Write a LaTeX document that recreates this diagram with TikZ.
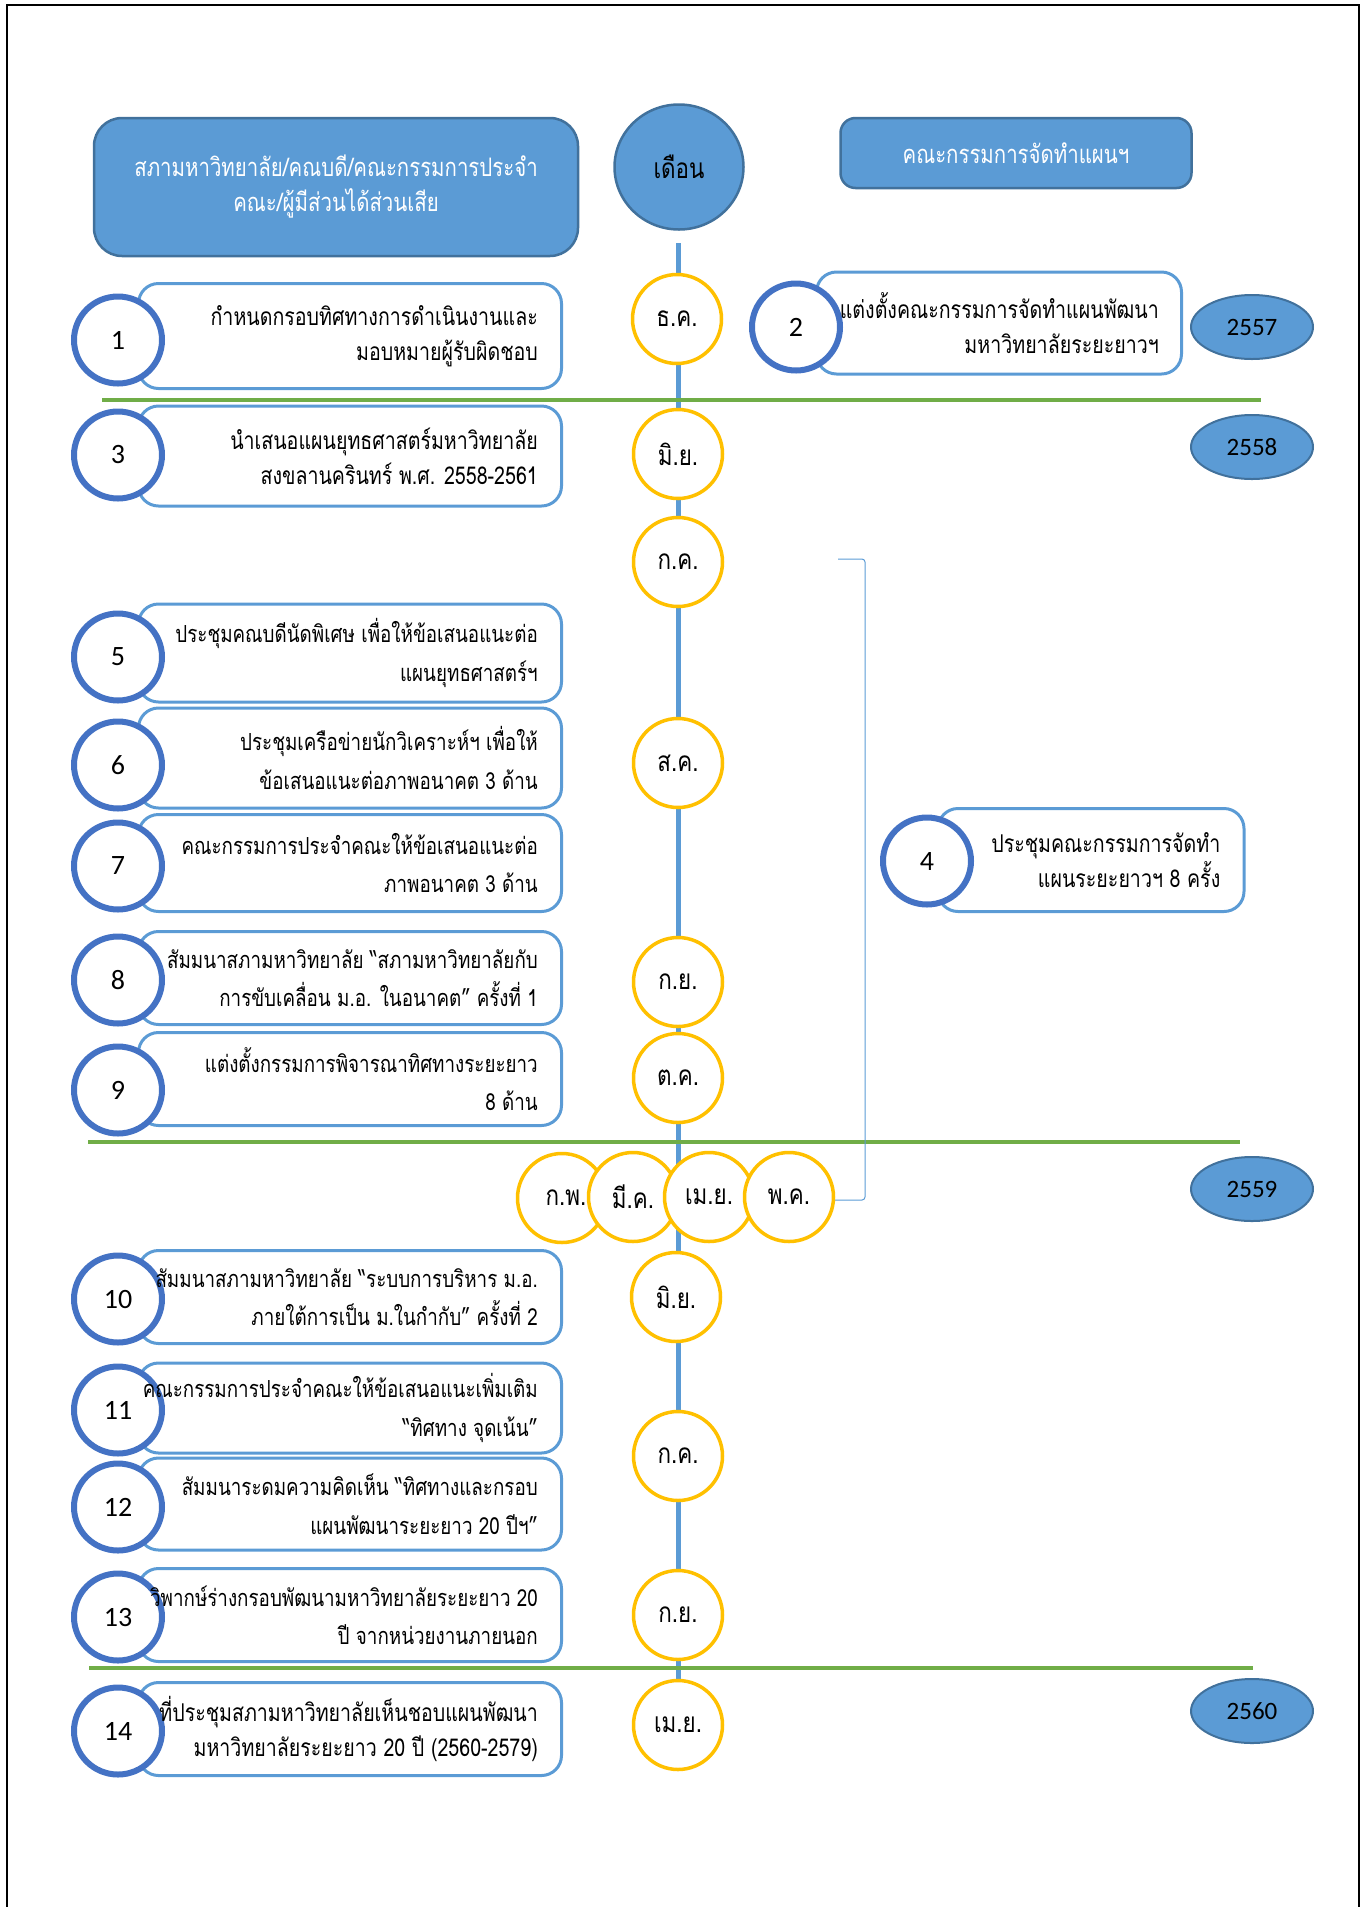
\documentclass[tikz,border=0pt]{standalone}
\usepackage{fontspec}
\setmainfont{Carlito}
\newfontfamily\thaifont[Script=Thai,FakeStretch=0.8]{Loma}
\usetikzlibrary{positioning, shapes.geometric}

\definecolor{headblue}{HTML}{5B9BD5}
\definecolor{headedge}{HTML}{41719C}
\definecolor{numblue}{HTML}{4472C4}
\definecolor{monthgold}{HTML}{FFC000}
\definecolor{yeargreen}{HTML}{70AD47}

\begin{document}
\begin{tikzpicture}[x=1pt, y=-1pt, every node/.style={inner sep=0pt}, node distance=25pt,
    headbox/.style={rectangle, draw=headedge, fill=headblue, line width=2.5pt, rounded corners=28pt, text=white, align=center, font=\thaifont\fontsize{25.5}{35}\selectfont},
    monthnode/.style={ellipse, draw=monthgold, fill=white, line width=3.5pt, minimum width=89pt, minimum height=89pt, font=\thaifont\fontsize{28}{30}\selectfont},
    numcircle/.style={ellipse, draw=numblue, fill=white, line width=6pt, minimum width=88pt, minimum height=87pt, font=\fontsize{28}{32}\selectfont},
    taskbox/.style={rectangle, draw=headblue, fill=white, line width=3pt, rounded corners=20pt, minimum width=423pt, minimum height=93pt},
    tasktext/.style={align=right, font=\thaifont\fontsize{23.5}{38.5}\selectfont},
    widetext/.style={align=right, font=\thaifont\fontsize{24.5}{35}\selectfont},
    yearnode/.style={ellipse, draw=headedge, fill=headblue, line width=2pt, minimum width=122pt, minimum height=64pt, font=\fontsize{25}{28}\selectfont},
    timeline/.style={headblue, line width=5pt},
    yearline/.style={yeargreen, line width=4.5pt},
    bracketline/.style={headblue, line width=1pt, rounded corners=3pt}]
    \useasboundingbox (0,0) rectangle (1367,1907);

    % Page frame
    \draw[line width=2.5pt] (7,1907) -- (7,5) -- (1359,5) -- (1359,1907);

    % Timeline
    \coordinate (linetop) at (678,243);
    \coordinate (linebot) at (678,1725);
    \draw[timeline] (linetop) -- (linebot);

    % Year separators
    \draw[yearline] (102,400) -- (1261,400);
    \draw[yearline] (88,1142) -- (1240,1142);
    \draw[yearline] (89,1668) -- (1253,1668);

    % Bracket for item 4
    \coordinate (brtop) at (838,559);
    \coordinate (brbot) at (833,1200);
    \draw[bracketline] (brtop) -- (865,559) -- (865,1200) -- (brbot);

    % Headers
    \node[headbox, minimum width=484pt, minimum height=138pt] (hleft) at (336,187) {สภามหาวิทยาลัย/คณบดี/คณะกรรมการประจำ\\คณะ/ผู้มีส่วนได้ส่วนเสีย};
    \node[ellipse, draw=headedge, fill=headblue, line width=2.5pt, minimum width=129pt, minimum height=125pt, font=\thaifont\fontsize{28}{30}\selectfont] (hmonth) at (679,167) {เดือน};
    \node[headbox, rounded corners=15pt, minimum width=351pt, minimum height=70pt] (hright) at (1016,153) {คณะกรรมการจัดทำแผนฯ};

    % Months
    \node[monthnode] (mdec) at (677,319) {ธ.ค.};
    \node[monthnode] (mjun) at (678,454) {มิ.ย.};
    \node[monthnode] (mjul) at (678,562) {ก.ค.};
    \node[monthnode] (maug) at (678,763) {ส.ค.};
    \node[monthnode] (msep) at (678,982) {ก.ย.};
    \node[monthnode] (moct) at (678,1078) {ต.ค.};
    \node[monthnode] (mfeb) at (562,1198) {\hspace*{8pt}ก.พ.};
    \node[monthnode] (mmar) at (633,1197) {มี.ค.};
    \node[monthnode] (mapr) at (709,1197) {เม.ย.};
    \node[monthnode] (mmay) at (789,1197) {พ.ค.};
    \node[monthnode] (mjunb) at (676,1297) {มิ.ย.};
    \node[monthnode] (mjulb) at (678,1456) {ก.ค.};
    \node[monthnode] (msepb) at (678,1615) {ก.ย.};
    \node[monthnode] (maprb) at (678,1725) {เม.ย.};

    % Task boxes
    \node[taskbox, minimum height=105pt] (t1) at (350,336) {};
    \node[taskbox, minimum width=365pt, minimum height=102pt] (t2) at (999,323) {};
    \node[taskbox, minimum height=100pt] (t3) at (350,456) {};
    \node[taskbox, minimum width=306pt, minimum height=103pt] (t4) at (1091,860) {};
    \node[taskbox, minimum height=98pt] (t5) at (350,653) {};
    \node[taskbox, minimum height=100pt] (t6) at (350,758) {};
    \node[taskbox, minimum height=97pt] (t7) at (350,863) {};
    \node[taskbox] (t8) at (350,978) {};
    \node[taskbox] (t9) at (350,1079) {};
    \node[taskbox] (t10) at (350,1297) {};
    \node[taskbox, minimum height=90pt] (t11) at (350,1408) {};
    \node[taskbox, minimum height=92pt] (t12) at (350,1504) {};
    \node[taskbox] (t13) at (350,1615) {};
    \node[taskbox] (t14) at (350,1729) {};

    % Numbers
    \node[numcircle] (n1) at (118,340) {1};
    \node[numcircle] (n2) at (796,327) {2};
    \node[numcircle] (n3) at (118,455) {3};
    \node[numcircle] (n4) at (927,861) {4};
    \node[numcircle] (n5) at (118,657) {5};
    \node[numcircle] (n6) at (118,765) {6};
    \node[numcircle] (n7) at (118,866) {7};
    \node[numcircle] (n8) at (118,980) {8};
    \node[numcircle] (n9) at (118,1090) {9};
    \node[numcircle] (n10) at (118,1299) {10};
    \node[numcircle] (n11) at (118,1410) {11};
    \node[numcircle] (n12) at (118,1507) {12};
    \node[numcircle] (n13) at (118,1617) {13};
    \node[numcircle] (n14) at (118,1731) {14};

    % Task texts
    \node[widetext, left=of t1.east] (x1) {กำหนดกรอบทิศทางการดำเนินงานและ\\มอบหมายผู้รับผิดชอบ};
    \node[widetext, left=24pt of t2.east] (x2) {แต่งตั้งคณะกรรมการจัดทำแผนพัฒนา\\มหาวิทยาลัยระยะยาวฯ};
    \node[widetext, left=of t3.east] (x3) {นำเสนอแผนยุทธศาสตร์มหาวิทยาลัย\\สงขลานครินทร์ พ.ศ. 2558-2561};
    \node[widetext, left=of t4.east] (x4) {ประชุมคณะกรรมการจัดทำ\\แผนระยะยาวฯ 8 ครั้ง};
    \node[tasktext, left=of t5.east] (x5) {ประชุมคณบดีนัดพิเศษ เพื่อให้ข้อเสนอแนะต่อ\\แผนยุทธศาสตร์ฯ};
    \node[tasktext, left=of t6.east] (x6) {ประชุมเครือข่ายนักวิเคราะห์ฯ เพื่อให้\\ข้อเสนอแนะต่อภาพอนาคต 3 ด้าน};
    \node[tasktext, left=of t7.east] (x7) {คณะกรรมการประจำคณะให้ข้อเสนอแนะต่อ\\ภาพอนาคต 3 ด้าน};
    \node[tasktext, left=of t8.east] (x8) {สัมมนาสภามหาวิทยาลัย “สภามหาวิทยาลัยกับ\\การขับเคลื่อน ม.อ. ในอนาคต” ครั้งที่ 1};
    \node[tasktext, left=of t9.east] (x9) {แต่งตั้งกรรมการพิจารณาทิศทางระยะยาว\\8 ด้าน};
    \node[tasktext, left=of t10.east] (x10) {สัมมนาสภามหาวิทยาลัย “ระบบการบริหาร ม.อ.\\ภายใต้การเป็น ม.ในกำกับ” ครั้งที่ 2};
    \node[tasktext, left=of t11.east] (x11) {คณะกรรมการประจำคณะให้ข้อเสนอแนะเพิ่มเติม\\“ทิศทาง จุดเน้น”};
    \node[tasktext, left=of t12.east] (x12) {สัมมนาระดมความคิดเห็น “ทิศทางและกรอบ\\แผนพัฒนาระยะยาว 20 ปีฯ”};
    \node[tasktext, left=of t13.east] (x13) {วิพากษ์ร่างกรอบพัฒนามหาวิทยาลัยระยะยาว 20\\ปี จากหน่วยงานภายนอก};
    \node[widetext, left=of t14.east] (x14) {ที่ประชุมสภามหาวิทยาลัยเห็นชอบแผนพัฒนา\\มหาวิทยาลัยระยะยาว 20 ปี (2560-2579)};

    % Years
    \node[yearnode] (y2557) at (1252,327) {2557};
    \node[yearnode] (y2558) at (1252,447) {2558};
    \node[yearnode] (y2559) at (1252,1189) {2559};
    \node[yearnode] (y2560) at (1252,1711) {2560};
\end{tikzpicture}
\end{document}
